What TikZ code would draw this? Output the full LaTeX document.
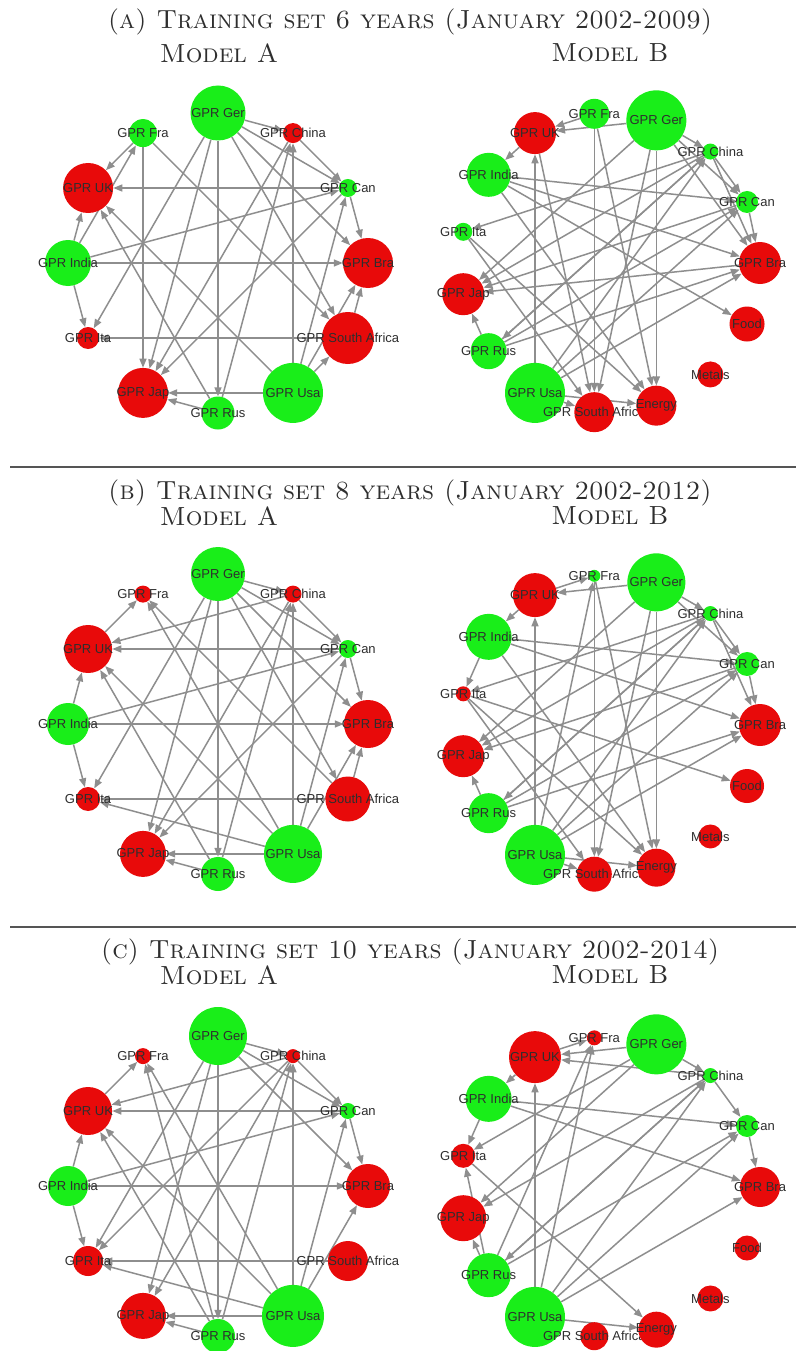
\documentclass[tikz,border=0pt]{standalone}
\usepackage{fontspec}
\newfontfamily\lblfont{Liberation Sans}
\usetikzlibrary{arrows.meta}
\pgfdeclarelayer{bg}
\pgfsetlayers{bg,main}
\definecolor{gnode}{RGB}{25,238,25}
\definecolor{rnode}{RGB}{232,10,10}
\definecolor{egray}{RGB}{142,142,142}
\definecolor{rulegray}{RGB}{85,85,85}
\tikzset{
  vtx/.style={circle, inner sep=0pt, draw=none, minimum size=#1},
  G/.style={vtx=#1, fill=gnode},
  R/.style={vtx=#1, fill=rnode},
  vlabel/.style={font=\lblfont\fontsize{13}{13}\selectfont, text=black!82, inner sep=0pt},
  link/.style={draw=egray, line width=1.5pt, -{Triangle[length=9pt,width=7pt]}},
  caption/.style={font=\fontsize{26.2}{30}\selectfont, text=black!82, inner sep=0pt},
  sepline/.style={draw=rulegray, line width=2pt},
}
% vertex: prefix, name, angle, colour style, diameter, label
\newcommand\vx[6]{%
  \node[#4=#5pt] (#1#2) at (#3:150) {};
  \node[vlabel] at (#3:150) {#6};
}
% directed links between vertices of one panel
\newcommand\links[2]{\foreach \s/\t in {#2}{\draw[link] (#1\s) -- (#1\t);}}

\begin{document}
\begin{tikzpicture}[x=1pt,y=1pt]
\begin{pgfonlayer}{bg}
\fill[white] (0,0) rectangle (796,-1351);
\end{pgfonlayer}
\useasboundingbox (0,0) rectangle (796,-1351);

% ---------- captions and separators ----------
\node[caption] (capa) at (410,-22) {\textsc{(a) Training set 6 years (January 2002-2009)}};
\node[caption] (aAt) at (219,-53) {\textsc{Model A}};
\node[caption] (aBt) at (610,-53) {\textsc{Model B}};
\draw[sepline] (10,-467) -- (796,-467);
\node[caption] (capb) at (410,-493) {\textsc{(b) Training set 8 years (January 2002-2012)}};
\node[caption] (bAt) at (219,-516) {\textsc{Model A}};
\node[caption] (bBt) at (610,-516) {\textsc{Model B}};
\draw[sepline] (10,-927) -- (796,-927);
\node[caption] (capc) at (410,-952) {\textsc{(c) Training set 10 years (January 2002-2014)}};
\node[caption] (cAt) at (219,-975) {\textsc{Model A}};
\node[caption] (cBt) at (610,-975) {\textsc{Model B}};

% ---------- (a) model A ----------
\begin{scope}[shift={(218,-263)}]
\vx{aA}{Ger}{90}{G}{55}{GPR Ger}
\vx{aA}{Chi}{60}{R}{20}{GPR China}
\vx{aA}{Can}{30}{G}{18}{GPR Can}
\vx{aA}{Bra}{0}{R}{50}{GPR Bra}
\vx{aA}{SA}{-30}{R}{52}{GPR South Africa}
\vx{aA}{Usa}{-60}{G}{60}{GPR Usa}
\vx{aA}{Rus}{-90}{G}{33}{GPR Rus}
\vx{aA}{Jap}{-120}{R}{50}{GPR Jap}
\vx{aA}{Ita}{-150}{R}{22}{GPR Ita}
\vx{aA}{Ind}{180}{G}{46}{GPR India}
\vx{aA}{UK}{150}{R}{50}{GPR UK}
\vx{aA}{Fra}{120}{G}{28}{GPR Fra}
\end{scope}
\begin{pgfonlayer}{bg}
\links{aA}{Ger/Chi,Ger/Can,Ger/Bra,Ger/SA,Ger/Rus,Ger/Jap,Ger/Ita,Fra/UK,Ind/Fra,Fra/SA,Fra/Jap,Can/UK,Ind/UK,Ind/Ita,Ind/Bra,Ind/Can,SA/Ita,Usa/UK,Usa/Jap,Rus/Jap,Usa/Chi,Rus/Chi,Chi/Jap,Chi/Can,Can/Bra,Usa/Bra,SA/Bra,Usa/SA,Rus/UK,Can/Jap,Usa/Can}
\end{pgfonlayer}

% ---------- (a) model B ----------
\begin{scope}[shift={(610,-263)}]
\vx{aB}{Ger}{72}{G}{60}{GPR Ger}
\vx{aB}{Fra}{96}{G}{30}{GPR Fra}
\vx{aB}{UK}{120}{R}{42}{GPR UK}
\vx{aB}{Ind}{144}{G}{44}{GPR India}
\vx{aB}{Ita}{168}{G}{18}{GPR Ita}
\vx{aB}{Jap}{192}{R}{42}{GPR Jap}
\vx{aB}{Rus}{216}{G}{36}{GPR Rus}
\vx{aB}{Usa}{240}{G}{60}{GPR Usa}
\vx{aB}{SA}{264}{R}{40}{GPR South Africa}
\vx{aB}{Ene}{288}{R}{40}{Energy}
\vx{aB}{Met}{312}{R}{26}{Metals}
\vx{aB}{Foo}{336}{R}{35}{Food}
\vx{aB}{Bra}{0}{R}{42}{GPR Bra}
\vx{aB}{Can}{24}{G}{22}{GPR Can}
\vx{aB}{Chi}{48}{G}{16}{GPR China}
\end{scope}
\begin{pgfonlayer}{bg}
\links{aB}{Fra/UK,Ger/UK,UK/Ind,Usa/UK,Ger/Chi,Ger/Can,Chi/Can,Chi/Bra,Can/Bra,Ger/Bra,Ind/Bra,Ind/Can,Ind/Ene,Ind/Foo,Chi/Ita,Ita/SA,Ita/Ene,Chi/Jap,Can/Jap,Ger/Jap,Bra/Jap,Rus/Jap,Usa/Chi,Usa/Can,Usa/Bra,Rus/Chi,Rus/Can,Rus/Bra,Ger/SA,Ger/Ene,Fra/SA,Fra/Ene,Chi/Rus,Usa/SA,Usa/Ene,UK/SA}
\end{pgfonlayer}

% ---------- (b) model A ----------
\begin{scope}[shift={(218,-724)}]
\vx{bA}{Ger}{90}{G}{54}{GPR Ger}
\vx{bA}{Chi}{60}{R}{17}{GPR China}
\vx{bA}{Can}{30}{G}{18}{GPR Can}
\vx{bA}{Bra}{0}{R}{48}{GPR Bra}
\vx{bA}{SA}{-30}{R}{45}{GPR South Africa}
\vx{bA}{Usa}{-60}{G}{58}{GPR Usa}
\vx{bA}{Rus}{-90}{G}{34}{GPR Rus}
\vx{bA}{Jap}{-120}{R}{46}{GPR Jap}
\vx{bA}{Ita}{-150}{R}{24}{GPR Ita}
\vx{bA}{Ind}{180}{G}{42}{GPR India}
\vx{bA}{UK}{150}{R}{48}{GPR UK}
\vx{bA}{Fra}{120}{R}{17}{GPR Fra}
\end{scope}
\begin{pgfonlayer}{bg}
\links{bA}{Ger/Chi,Ger/Can,Ger/Bra,Ger/SA,Ger/Rus,Ger/Jap,Ger/Ita,UK/Fra,Chi/UK,Can/UK,Ind/UK,Ind/Ita,Ind/Bra,Ind/Can,SA/Ita,Usa/Ita,Usa/UK,Usa/Jap,Rus/Jap,Usa/Chi,Rus/Chi,Chi/Jap,Chi/Can,Can/Bra,Usa/Bra,SA/Bra,Usa/Can,SA/Fra,Usa/Fra,Rus/UK,Can/Jap}
\end{pgfonlayer}

% ---------- (b) model B ----------
\begin{scope}[shift={(610,-725)}]
\vx{bB}{Ger}{72}{G}{58}{GPR Ger}
\vx{bB}{Fra}{96}{G}{12}{GPR Fra}
\vx{bB}{UK}{120}{R}{44}{GPR UK}
\vx{bB}{Ind}{144}{G}{46}{GPR India}
\vx{bB}{Ita}{168}{R}{15}{GPR Ita}
\vx{bB}{Jap}{192}{R}{42}{GPR Jap}
\vx{bB}{Rus}{216}{G}{40}{GPR Rus}
\vx{bB}{Usa}{240}{G}{60}{GPR Usa}
\vx{bB}{SA}{264}{R}{35}{GPR South Africa}
\vx{bB}{Ene}{288}{R}{38}{Energy}
\vx{bB}{Met}{312}{R}{24}{Metals}
\vx{bB}{Foo}{336}{R}{34}{Food}
\vx{bB}{Bra}{0}{R}{42}{GPR Bra}
\vx{bB}{Can}{24}{G}{24}{GPR Can}
\vx{bB}{Chi}{48}{G}{15}{GPR China}
\end{scope}
\begin{pgfonlayer}{bg}
\links{bB}{UK/Fra,Ger/UK,UK/Ind,Usa/UK,Ind/Ita,Ger/Chi,Ger/Can,Chi/Can,Can/Bra,Chi/Bra,Ind/Can,Ind/Bra,Ita/Foo,Chi/Ita,Ita/SA,Ita/Ene,Chi/Jap,Can/Jap,Ger/Jap,Rus/Jap,Usa/Chi,Usa/Can,Usa/Bra,Rus/Chi,Rus/Bra,Rus/Can,Ger/SA,Ger/Ene,Fra/SA,Fra/Ene,Chi/Rus,Usa/SA,Usa/Ene,Usa/Fra,Ind/Ene}
\end{pgfonlayer}

% ---------- (c) model A ----------
\begin{scope}[shift={(218,-1186)}]
\vx{cA}{Ger}{90}{G}{58}{GPR Ger}
\vx{cA}{Chi}{60}{R}{14}{GPR China}
\vx{cA}{Can}{30}{G}{16}{GPR Can}
\vx{cA}{Bra}{0}{R}{44}{GPR Bra}
\vx{cA}{SA}{-30}{R}{40}{GPR South Africa}
\vx{cA}{Usa}{-60}{G}{62}{GPR Usa}
\vx{cA}{Rus}{-90}{G}{34}{GPR Rus}
\vx{cA}{Jap}{-120}{R}{46}{GPR Jap}
\vx{cA}{Ita}{-150}{R}{30}{GPR Ita}
\vx{cA}{Ind}{180}{G}{40}{GPR India}
\vx{cA}{UK}{150}{R}{48}{GPR UK}
\vx{cA}{Fra}{120}{R}{16}{GPR Fra}
\end{scope}
\begin{pgfonlayer}{bg}
\links{cA}{Ger/Chi,Ger/Can,Ger/Bra,Ger/Rus,Ger/Jap,Ger/Ita,UK/Fra,Usa/Fra,Rus/Fra,Chi/UK,Can/UK,Ind/UK,Ind/Ita,Ind/Bra,Ind/Can,SA/Ita,Usa/Ita,Usa/UK,Usa/Jap,Rus/Jap,Usa/Chi,Rus/Chi,Chi/Can,Can/Bra,Usa/Bra,Usa/Can,Rus/UK,Chi/Jap,Chi/Ita}
\end{pgfonlayer}

% ---------- (c) model B ----------
\begin{scope}[shift={(610,-1187)}]
\vx{cB}{Ger}{72}{G}{60}{GPR Ger}
\vx{cB}{Fra}{96}{R}{15}{GPR Fra}
\vx{cB}{UK}{120}{R}{52}{GPR UK}
\vx{cB}{Ind}{144}{G}{46}{GPR India}
\vx{cB}{Ita}{168}{R}{24}{GPR Ita}
\vx{cB}{Jap}{192}{R}{46}{GPR Jap}
\vx{cB}{Rus}{216}{G}{44}{GPR Rus}
\vx{cB}{Usa}{240}{G}{60}{GPR Usa}
\vx{cB}{SA}{264}{R}{28}{GPR South Africa}
\vx{cB}{Ene}{288}{R}{36}{Energy}
\vx{cB}{Met}{312}{R}{26}{Metals}
\vx{cB}{Foo}{336}{R}{25}{Food}
\vx{cB}{Bra}{0}{R}{40}{GPR Bra}
\vx{cB}{Can}{24}{G}{22}{GPR Can}
\vx{cB}{Chi}{48}{G}{15}{GPR China}
\end{scope}
\begin{pgfonlayer}{bg}
\links{cB}{UK/Fra,Usa/Fra,Ger/UK,Chi/UK,UK/Ind,Usa/UK,Ind/Ita,Ger/Chi,Chi/Can,Can/Bra,Ind/Can,Ind/Bra,Ger/Ita,Ger/Jap,Chi/Jap,Usa/Chi,Rus/Chi,Usa/Can,Rus/Can,Usa/Bra,Rus/Jap,Ita/Ene,Rus/Ita,Usa/Ene,Chi/Rus,Rus/Fra}
\end{pgfonlayer}
\end{tikzpicture}
\end{document}
